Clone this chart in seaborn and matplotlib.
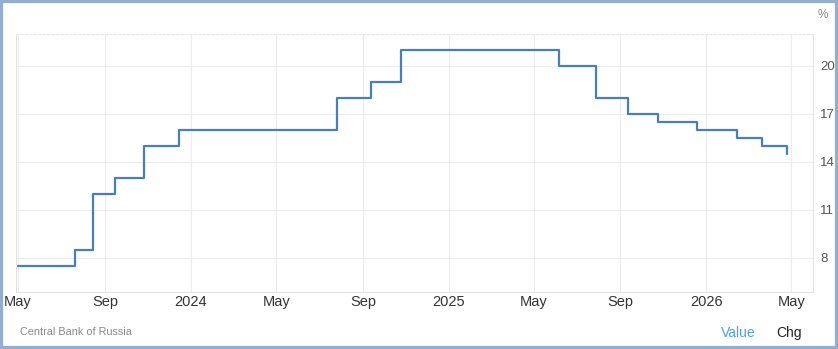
import matplotlib
matplotlib.use("Agg")
import matplotlib.pyplot as plt
import matplotlib.dates as mdates
from matplotlib.patches import Rectangle
import seaborn as sns
import pandas as pd

# Data: Russia key interest rate (step changes)
dates = ["2023-05-01", "2023-07-21", "2023-08-15", "2023-09-15", "2023-10-27",
         "2023-12-15", "2024-07-26", "2024-09-13", "2024-10-25", "2025-06-06",
         "2025-07-28", "2025-09-12", "2025-10-24", "2025-12-19", "2026-02-13",
         "2026-03-20", "2026-04-25"]
rates = [7.5, 8.5, 12, 13, 15, 16, 18, 19, 21, 20, 18, 17, 16.5, 16, 15.5, 15, 14.5]
ytick_vals = [8, 11, 14, 17, 20]
xtick_dates = ["2023-05-01", "2023-09-01", "2024-01-01", "2024-05-01", "2024-09-01",
               "2025-01-01", "2025-05-01", "2025-09-01", "2026-01-01", "2026-05-01"]
xtick_labels = ["May", "Sep", "2024", "May", "Sep", "2025", "May", "Sep", "2026", "May"]

df = pd.DataFrame({"date": pd.to_datetime(dates), "rate": rates})

sns.set_theme(style="white")
plt.rcParams["font.family"] = ["Arial", "Liberation Sans", "DejaVu Sans"]

W, H = 838, 349
fig = plt.figure(figsize=(W / 100, H / 100), dpi=100)
ax = fig.add_axes([16 / W, (H - 292) / H, (813 - 16) / W, (292 - 34) / H])

sns.lineplot(data=df, x="date", y="rate", ax=ax, drawstyle="steps-post",
             color="#4a7ebb", linewidth=1.6)

ax.set_xlim(pd.Timestamp("2023-04-28"), pd.Timestamp("2026-06-01"))
ax.set_ylim(5.875, 22.0)

ax.set_xticks([mdates.date2num(pd.Timestamp(d)) for d in xtick_dates])
ax.set_xticklabels(xtick_labels, fontsize=10.5, color="#333333")
ax.set_yticks(ytick_vals)
ax.set_yticklabels([str(v) for v in ytick_vals], fontsize=9.5, color="#555555")
ax.yaxis.tick_right()
ax.tick_params(axis="x", length=0, pad=2)
ax.tick_params(axis="y", length=0, pad=5)
ax.set_xlabel("")
ax.set_ylabel("")

ax.grid(True, color="#ececec", linewidth=0.8, linestyle="-")
for side in ["left", "right", "bottom"]:
    ax.spines[side].set_visible(True)
    ax.spines[side].set_color("#e2e2e2")
    ax.spines[side].set_linewidth(0.8)
ax.spines["top"].set_visible(True)
ax.spines["top"].set_color("#e6e6e6")
ax.spines["top"].set_linestyle((0, (2, 2)))
ax.spines["top"].set_linewidth(0.8)

fig.text(823 / W, 1 - 15 / H, "%", fontsize=8.5, color="#888888",
         ha="center", va="center")
fig.text(20 / W, 1 - 332 / H, "Central Bank of Russia", fontsize=7.8,
         color="#888888", ha="left", va="center")
fig.text(738 / W, 1 - 333 / H, "Value", fontsize=10, color="#4da0f0",
         ha="center", va="center")
fig.text(789 / W, 1 - 333 / H, "Chg", fontsize=10, color="#222222",
         ha="center", va="center")

fig.add_artist(Rectangle((0, 0), 1, 1, transform=fig.transFigure, fill=False,
                         edgecolor="#93aece", linewidth=4.5, clip_on=True))

fig.savefig("out.png", dpi=100)
